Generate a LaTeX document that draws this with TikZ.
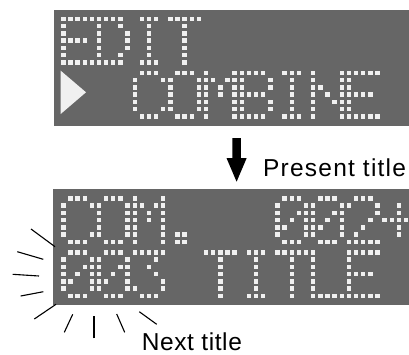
\documentclass[tikz,border=0pt]{standalone}
\usepackage{fontspec}
\setmainfont{Liberation Sans}
\definecolor{panel}{HTML}{666666}
\definecolor{dotc}{HTML}{F0F0F0}
% 5x7 glyphs, rows top to bottom
\def\gE{{1,1,1,1,1},{1,0,0,0,0},{1,0,0,0,0},{1,1,1,1,0},{1,0,0,0,0},{1,0,0,0,0},{1,1,1,1,1}}
\def\gD{{1,1,1,1,0},{1,0,0,1,0},{1,0,0,0,1},{1,0,0,0,1},{1,0,0,0,1},{1,0,0,1,0},{1,1,1,1,0}}
\def\gI{{0,1,1,1,0},{0,0,1,0,0},{0,0,1,0,0},{0,0,1,0,0},{0,0,1,0,0},{0,0,1,0,0},{0,1,1,1,0}}
\def\gT{{1,1,1,1,1},{0,0,1,0,0},{0,0,1,0,0},{0,0,1,0,0},{0,0,1,0,0},{0,0,1,0,0},{0,0,1,0,0}}
\def\gC{{0,1,1,1,0},{1,0,0,0,1},{1,0,0,0,0},{1,0,0,0,0},{1,0,0,0,0},{1,0,0,0,1},{0,1,1,1,0}}
\def\gO{{0,1,1,1,0},{1,0,0,0,1},{1,0,0,0,1},{1,0,0,0,1},{1,0,0,0,1},{1,0,0,0,1},{0,1,1,1,0}}
\def\gM{{1,0,0,0,1},{1,1,0,1,1},{1,0,1,0,1},{1,0,1,0,1},{1,0,0,0,1},{1,0,0,0,1},{1,0,0,0,1}}
\def\gB{{1,1,1,1,0},{1,0,0,0,1},{1,0,0,0,1},{1,1,1,1,0},{1,0,0,0,1},{1,0,0,0,1},{1,1,1,1,0}}
\def\gN{{1,0,0,0,1},{1,0,0,0,1},{1,1,0,0,1},{1,0,1,0,1},{1,0,0,1,1},{1,0,0,0,1},{1,0,0,0,1}}
\def\gL{{1,0,0,0,0},{1,0,0,0,0},{1,0,0,0,0},{1,0,0,0,0},{1,0,0,0,0},{1,0,0,0,0},{1,1,1,1,1}}
\def\gDot{{0,0,0,0,0},{0,0,0,0,0},{0,0,0,0,0},{0,0,0,0,0},{0,0,0,0,0},{0,1,1,0,0},{0,1,1,0,0}}
\def\gZero{{0,1,1,1,0},{1,0,0,0,1},{1,0,0,1,1},{1,0,1,0,1},{1,1,0,0,1},{1,0,0,0,1},{0,1,1,1,0}}
\def\gTwo{{0,1,1,1,0},{1,0,0,0,1},{0,0,0,0,1},{0,0,0,1,0},{0,0,1,0,0},{0,1,0,0,0},{1,1,1,1,1}}
\def\gThree{{1,1,1,1,1},{0,0,0,1,0},{0,0,1,0,0},{0,0,0,1,0},{0,0,0,0,1},{1,0,0,0,1},{0,1,1,1,0}}
\def\gPlus{{0,0,0,0,0},{0,0,1,0,0},{0,0,1,0,0},{1,1,1,1,1},{0,0,1,0,0},{0,0,1,0,0},{0,0,0,0,0}}
\newcommand\glyph[3]{%
  \foreach \rw [count=\r from 0] in #3 {%
    \foreach \bt [count=\c from 0] in \rw {%
      \ifnum\bt=1
        \fill[dotc] ({63.3+7.14*(#1+\c)-2.2},{#2+7.25*\r-2.2}) rectangle ++(4.4,4.4);
      \fi
    }%
  }%
}
\tikzset{
  lcd/.style={fill=panel},
  flash/.style={draw=black,line width=1.1pt},
  lbl/.style={inner sep=0pt,font=\fontsize{24.5}{24.5}\selectfont,text=black},
}
\begin{document}
\begin{tikzpicture}[x=1pt,y=-1pt]
\useasboundingbox (0,0) rectangle (409,354);
\clip (0,0) rectangle (409,354);
% panels
\fill[lcd] (54,10) rectangle (409,126);
\fill[lcd] (53.3,189.3) rectangle (409,305);
% top panel, line 1: EDIT
\glyph{0}{18.8}{\gE}
\glyph{5}{18.8}{\gD}
\glyph{10}{18.8}{\gI}
\glyph{15}{18.8}{\gT}
% top panel, line 2: > COMBINE
\fill[dotc] (60.7,70.7) -- (86,92.3) -- (60.7,114) -- cycle;
\glyph{10}{72.8}{\gC}
\glyph{15}{72.8}{\gO}
\glyph{20}{72.8}{\gM}
\glyph{25}{72.8}{\gB}
\glyph{30}{72.8}{\gI}
\glyph{35}{72.8}{\gN}
\glyph{40}{72.8}{\gE}
% bottom panel, line 1: COM.  002+
\glyph{0}{198.3}{\gC}
\glyph{5}{198.3}{\gO}
\glyph{10}{198.3}{\gM}
\glyph{15}{198.3}{\gDot}
\glyph{30}{198.3}{\gZero}
\glyph{35}{198.3}{\gZero}
\glyph{40}{198.3}{\gTwo}
\glyph{45}{198.3}{\gPlus}
% bottom panel, line 2: 003 TITLE
\glyph{0}{252.3}{\gZero}
\glyph{5}{252.3}{\gZero}
\glyph{10}{252.3}{\gThree}
\glyph{20}{252.3}{\gT}
\glyph{25}{252.3}{\gI}
\glyph{30}{252.3}{\gT}
\glyph{35}{252.3}{\gL}
\glyph{40}{252.3}{\gE}
% down arrow
\fill[black] (232.4,138) -- (240.8,138) -- (240.8,158) -- (246.7,158) -- (236.6,181.7)
  -- (226.5,158) -- (232.4,158) -- cycle;
% flashing marks
\draw[flash] (31,229) -- (55,246.7);
\draw[flash] (17.3,251.7) -- (43.3,259.3);
\draw[flash] (12.7,274.3) -- (39,276);
\draw[flash] (20.7,296) -- (43.3,291.7);
\draw[flash] (34.3,319) -- (56,304.3);
\draw[flash] (64.3,332.3) -- (72.7,314.3);
\draw[flash] (94,338.3) -- (94,316);
\draw[flash] (116.7,314) -- (124.7,332.3);
\draw[flash] (139.3,311.7) -- (156.7,324.3);
% labels
\node[lbl,anchor=base west] (present) at (263,176) {\addfontfeatures{LetterSpace=5}Present title};
\node[lbl,anchor=base west] (next) at (141.7,350) {\addfontfeatures{LetterSpace=2.4}Next title};
\end{tikzpicture}
\end{document}
